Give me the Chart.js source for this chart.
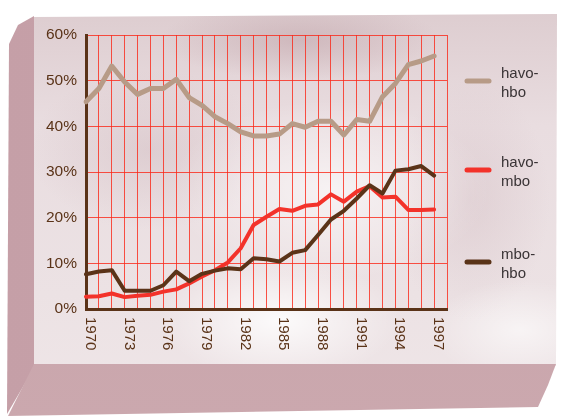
<!DOCTYPE html>
<html>
<head>
<meta charset="utf-8">
<script src="https://cdn.jsdelivr.net/npm/chart.js@4.4.0/dist/chart.umd.min.js"></script>
<style>
  html, body { margin: 0; padding: 0; background: #fff; }
  #wrap { position: relative; width: 568px; height: 420px; overflow: hidden; }
  .face { position: absolute; left: 0; top: 0; width: 568px; height: 420px; }
  #topface {
    clip-path: polygon(33px 17px, 557px 14px, 556px 366px, 33px 366px);
    background:
      radial-gradient(ellipse 120px 60px at 280px 320px, rgba(255,255,255,0.85), rgba(255,255,255,0) 100%),
      radial-gradient(ellipse 160px 90px at 330px 190px, rgba(255,255,255,0.6), rgba(255,255,255,0) 100%),
      radial-gradient(ellipse 90px 50px at 520px 330px, rgba(255,255,255,0.6), rgba(255,255,255,0) 100%),
      radial-gradient(ellipse 140px 40px at 300px 40px, rgba(190,160,166,0.5), rgba(190,160,166,0) 100%),
      radial-gradient(ellipse 120px 80px at 150px 150px, rgba(200,175,180,0.35), rgba(200,175,180,0) 100%),
      radial-gradient(ellipse 80px 120px at 470px 200px, rgba(205,180,186,0.35), rgba(205,180,186,0) 100%),
      linear-gradient(180deg, #dccbce 0%, #e9dde0 30%, #ece2e4 70%, #efe6e8 100%);
  }
  #leftface {
    clip-path: polygon(9px 44px, 18px 25px, 34px 16px, 34px 368px, 7px 414px);
    background: linear-gradient(90deg, #c59fa7, #c9a4ac);
  }
  #bottomface {
    clip-path: polygon(34px 364px, 556px 364px, 548px 385px, 538px 407px, 8px 416px);
    background: linear-gradient(180deg, #c7a1a8, #cba8ae);
  }
  canvas { position: absolute; left: 0; top: 0; }
</style>
</head>
<body>
<div id="wrap">
  <div class="face" id="topface"></div>
  <div class="face" id="leftface"></div>
  <div class="face" id="bottomface"></div>
  <canvas id="myChart" width="568" height="420"></canvas>
</div>
<script>
// grid years (one red line per year) and the years that get a label
var gridYears = ['1970', '1971', '1972', '1973', '1974', '1975', '1976', '1977', '1978', '1979',
	'1980', '1981', '1982', '1983', '1984', '1985', '1986', '1987', '1988', '1989',
	'1990', '1991', '1992', '1993', '1994', '1995', '1996', '1997', '1998'];
var labelYears = ['1970', '1973', '1976', '1979', '1982', '1985', '1988', '1991', '1994', '1997'];

// the series have 28 points, spread over the full width of the grid
var dataYears = ['1970', '1971', '1972', '1973', '1974', '1975', '1976', '1977', '1978', '1979',
	'1980', '1981', '1982', '1983', '1984', '1985', '1986', '1987', '1988', '1989',
	'1990', '1991', '1992', '1993', '1994', '1995', '1996', '1997'];

var yTicks = [0, 10, 20, 30, 40, 50, 60];

var havoHbo = [45.4, 48.3, 53.2, 49.7, 47.0, 48.3, 48.3, 50.3, 46.3, 44.6, 42.1, 40.6, 38.8, 37.9,
	37.9, 38.3, 40.6, 39.8, 41.1, 41.1, 38.1, 41.5, 41.1, 46.5, 49.4, 53.5, 54.3, 55.4];
var havoMbo = [2.7, 2.8, 3.4, 2.6, 2.9, 3.1, 3.8, 4.3, 5.6, 7.1, 8.5, 10.2, 13.3, 18.4,
	20.2, 21.9, 21.5, 22.6, 22.9, 25.1, 23.5, 25.7, 26.9, 24.4, 24.6, 21.7, 21.7, 21.8];
var mboHbo = [7.6, 8.2, 8.5, 4.0, 4.0, 4.0, 5.2, 8.2, 6.1, 7.7, 8.4, 8.9, 8.7, 11.1,
	10.9, 10.4, 12.3, 12.9, 16.2, 19.6, 21.5, 24.2, 27.1, 25.3, 30.3, 30.6, 31.3, 29.2];

var legendNames = [['havo-', 'hbo'], ['havo-', 'mbo'], ['mbo-', 'hbo']];

var brown = '#5a3318';
var gridRed = 'rgba(250, 40, 25, 0.8)';
Chart.defaults.font.family = '"Liberation Sans", Arial, sans-serif';

// x labels read top to bottom, so they are drawn here instead of by the axis
var yearLabels = {
	id: 'yearLabels',
	afterDraw: function (chart) {
		var ctx = chart.ctx;
		var xs = chart.scales.x;
		ctx.save();
		ctx.fillStyle = brown;
		ctx.font = '15px "Liberation Sans", Arial, sans-serif';
		ctx.textAlign = 'left';
		ctx.textBaseline = 'middle';
		labelYears.forEach(function (yr) {
			var px = xs.getPixelForValue(gridYears.indexOf(yr));
			ctx.save();
			ctx.translate(px + 4, 317);
			ctx.rotate(Math.PI / 2);
			ctx.fillText(yr, 0, 0);
			ctx.restore();
		});
		ctx.restore();
	}
};

// legend on the right: short line plus two-line name
var sideLegend = {
	id: 'sideLegend',
	afterDraw: function (chart) {
		var ctx = chart.ctx;
		var rows = [81, 170, 262];
		ctx.save();
		chart.data.datasets.forEach(function (ds, i) {
			var y = rows[i];
			ctx.strokeStyle = ds.borderColor;
			ctx.lineWidth = 5;
			ctx.lineCap = 'round';
			ctx.beginPath();
			ctx.moveTo(467, y);
			ctx.lineTo(489, y);
			ctx.stroke();
			ctx.fillStyle = '#3a3436';
			ctx.font = '15px "Liberation Sans", Arial, sans-serif';
			ctx.textAlign = 'left';
			ctx.textBaseline = 'middle';
			ctx.fillText(legendNames[i][0], 501, y - 7);
			ctx.fillText(legendNames[i][1], 501, y + 12);
		});
		ctx.restore();
	}
};

var ctx = document.getElementById('myChart').getContext('2d');
var chart = new Chart(ctx, {
	type: 'line',
	data: {
		datasets: [{
			label: 'havo-hbo',
			data: havoHbo,
			borderColor: '#b79b87',
			borderWidth: 5,
			order: 2
		}, {
			label: 'havo-mbo',
			data: havoMbo,
			borderColor: '#f3322a',
			borderWidth: 4,
			order: 1
		}, {
			label: 'mbo-hbo',
			data: mboHbo,
			borderColor: brown,
			borderWidth: 4,
			order: 0
		}]
	},
	options: {
		responsive: false,
		animation: false,
		devicePixelRatio: 1,
		layout: { padding: { top: 35, right: 121, bottom: 0, left: 0 } },
		datasets: {
			line: {
				xAxisID: 'xd',
				yAxisID: 'y',
				pointRadius: 0,
				tension: 0,
				fill: false,
				borderCapStyle: 'round',
				borderJoinStyle: 'round'
			}
		},
		plugins: { legend: { display: false }, tooltip: { enabled: false } },
		scales: {
			x: {
				type: 'category',
				labels: gridYears,
				offset: false,
				ticks: { display: false },
				grid: { color: gridRed, lineWidth: 1, drawTicks: false },
				border: { color: brown, width: 3 },
				afterFit: function (s) { s.height = 111; }
			},
			xd: {
				type: 'category',
				labels: dataYears,
				offset: false,
				display: false
			},
			y: {
				min: 0,
				max: 60,
				afterBuildTicks: function (s) {
					s.ticks = yTicks.map(function (v) { return { value: v }; });
				},
				ticks: {
					color: brown,
					font: { size: 15.5 },
					padding: 9,
					callback: function (v) { return v + '%'; }
				},
				grid: { color: gridRed, lineWidth: 1, drawTicks: false },
				border: { color: brown, width: 3 },
				afterFit: function (s) { s.width = 86; }
			}
		}
	},
	plugins: [yearLabels, sideLegend]
});
</script>
</body>
</html>
